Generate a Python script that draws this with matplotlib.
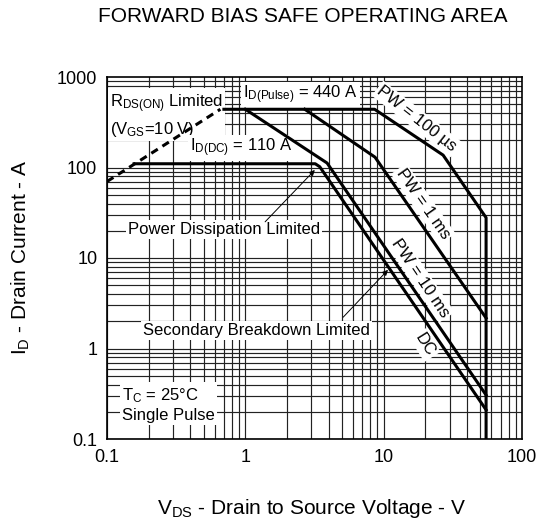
import numpy as np
import matplotlib
matplotlib.use('Agg')
import matplotlib.pyplot as plt

plt.rcParams['font.family'] = ['Liberation Sans', 'DejaVu Sans']
plt.rcParams['mathtext.fontset'] = 'custom'
plt.rcParams['mathtext.rm'] = 'Liberation Sans'
plt.rcParams['mathtext.it'] = 'Liberation Sans:italic'
plt.rcParams['mathtext.bf'] = 'Liberation Sans:bold'
plt.rcParams['mathtext.default'] = 'regular'

# RDS(on) limit (dashed)
rds_v = [0.1, 0.66]
rds_i = [70, 440]

# pulse curves
pw100us_v = [0.7, 8.6, 26.9, 55, 55]
pw100us_i = [440, 440, 137, 27.9, 0.1]
pw1ms_v = [2.69, 8.66, 55]
pw1ms_i = [440, 130, 2.17]
pw10ms_v = [1.0, 3.9, 55]
pw10ms_i = [440, 112, 0.306]
dc_v = [0.157, 3.2, 3.45, 55]
dc_i = [110, 110, 102, 0.21]

x_ticks = [0.1, 1, 10, 100]
x_labels = ['0.1', '1', '10', '100']
y_ticks = [0.1, 1, 10, 100, 1000]
y_labels = ['0.1', '1', '10', '100', '1000']

fig = plt.figure(figsize=(5.42, 5.29), dpi=100)
ax = fig.add_axes([107/542, 1 - 439/529, (522-107)/542, (439-77)/529])
ax.set_xscale('log')
ax.set_yscale('log')
ax.set_xlim(0.1, 100)
ax.set_ylim(0.1, 1000)

# grid at every 1..9 multiple
for dec in [0.1, 1, 10]:
    for k in range(1, 10):
        ax.axvline(dec * k, color='#222222', lw=0.85, zorder=0)
for dec in [0.1, 1, 10, 100]:
    for k in range(1, 10):
        ax.axhline(dec * k, color='#222222', lw=0.85, zorder=0)

ax.set_xticks(x_ticks)
ax.set_xticklabels(x_labels)
ax.set_yticks(y_ticks)
ax.set_yticklabels(y_labels)
ax.minorticks_off()
ax.tick_params(length=0, labelsize=13, pad=7)
for s in ax.spines.values():
    s.set_linewidth(1.2)

lw = 2.2
ax.plot(rds_v, rds_i, color='black', lw=lw, dashes=(2.5, 1.8), zorder=5)
ax.plot(pw100us_v, pw100us_i, color='black', lw=lw, zorder=5)
ax.plot(pw1ms_v, pw1ms_i, color='black', lw=lw, zorder=5)
ax.plot(pw10ms_v, pw10ms_i, color='black', lw=lw, zorder=5)
ax.plot(dc_v, dc_i, color='black', lw=lw, zorder=5)

box = dict(facecolor='white', edgecolor='none', pad=1.5)
fs = 12
ax.text(0.105, 370, 'R$_{DS(ON)}$ Limited\n(V$_{GS}$=10 V)', fontsize=fs, va='center',
        linespacing=1.35, bbox=box, zorder=3)
ax.text(0.96, 632, 'I$_{D(Pulse)}$ = 440 A', fontsize=fs, va='center', bbox=box, zorder=3)
ax.text(0.398, 164, 'I$_{D(DC)}$ = 110 A', fontsize=fs, va='center', bbox=box, zorder=3)
ax.text(17.4, 344, 'PW = 100 µs', fontsize=fs, ha='center', va='center',
        rotation=-38, rotation_mode='anchor', bbox=box, zorder=3)
ax.text(19.3, 39.7, 'PW = 1 ms', fontsize=fs, ha='center', va='center',
        rotation=-55, rotation_mode='anchor', bbox=box, zorder=3)
ax.text(18.4, 6.0, 'PW = 10 ms', fontsize=fs, ha='center', va='center',
        rotation=-56, rotation_mode='anchor', bbox=box, zorder=3)
ax.text(19.9, 1.09, 'DC', fontsize=fs, ha='center', va='center',
        rotation=-58, rotation_mode='anchor', bbox=box, zorder=3)
ax.text(0.142, 20.4, 'Power Dissipation Limited', fontsize=fs, va='center', bbox=box, zorder=3)
ax.text(0.182, 1.6, 'Secondary Breakdown Limited', fontsize=fs, va='center', bbox=box, zorder=3)
ax.text(0.128, 0.24, 'T$_C$ = 25°C\nSingle Pulse', fontsize=fs, va='center',
        linespacing=1.3, bbox=box, zorder=3)

arrow = dict(arrowstyle='-|>', color='black', lw=0.7, mutation_scale=8, shrinkA=0, shrinkB=0)
ax.annotate('', xy=(3.18, 93.9), xytext=(1.39, 25.1), arrowprops=arrow, zorder=4)
ax.annotate('', xy=(10.75, 7.4), xytext=(5.1, 2.22), arrowprops=arrow, zorder=4)

fig.text(303/542, 1 - 17/529, 'FORWARD BIAS SAFE OPERATING AREA', fontsize=15,
         ha='center', va='center')
fig.text(312/542, 1 - 508/529, 'V$_{DS}$ - Drain to Source Voltage - V', fontsize=15,
         ha='center', va='center')
fig.text(21/542, 1 - 257/529, 'I$_D$ - Drain Current - A', fontsize=15,
         ha='center', va='center', rotation=90)

fig.savefig('out.png', dpi=100)
